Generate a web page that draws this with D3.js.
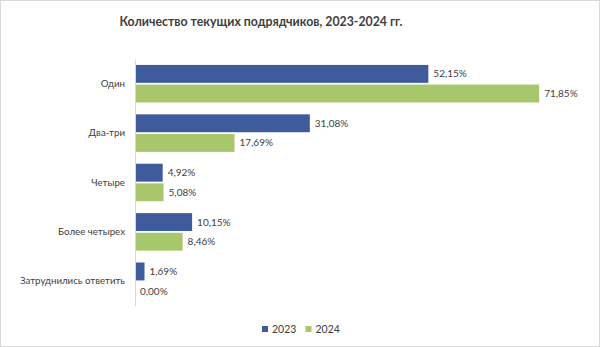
<!DOCTYPE html>
<html>
<head>
<meta charset="utf-8">
<script src="https://cdn.jsdelivr.net/npm/d3@7"></script>
<style>
  html, body { margin: 0; padding: 0; background: #fff; }
  svg { display: block; font-family: Lato, "Open Sans", sans-serif; }
</style>
</head>
<body>
<svg id="chart" width="600" height="347"></svg>
<script>
// Number of current contractors, share of respondents by year
const categories = ["Один", "Два-три", "Четыре", "Более четырех", "Затруднились ответить"];
const years = ["2023", "2024"];
const values2023 = [52.15, 31.08, 4.92, 10.15, 1.69];
const values2024 = [71.85, 17.69, 5.08, 8.46, 0.00];
const colors = ["#3F5B9B", "#A8C66C"];

const W = 600, H = 347;
const svg = d3.select("#chart");

// chart frame
svg.append("rect")
  .attr("x", 0.5).attr("y", 0.5)
  .attr("width", W - 1).attr("height", H - 1)
  .attr("fill", "#fff").attr("stroke", "#d9d9d9");

svg.append("text")
  .attr("x", 261).attr("y", 26)
  .attr("text-anchor", "middle")
  .attr("font-size", 12.3).attr("font-weight", 700)
  .attr("fill", "#404040")
  .text("Количество текущих подрядчиков, 2023-2024 гг.");

const plot = { left: 135, right: 585, top: 59, bottom: 306 };

const x = d3.scaleLinear().domain([0, 80]).range([plot.left, plot.right]);
const y = d3.scaleBand().domain(categories).range([plot.top, plot.bottom]).paddingInner(0.24).paddingOuter(0.12);
const ySub = d3.scaleBand().domain(years).range([0, y.bandwidth()]).paddingInner(0.09);

const series = years.map((yr, i) => ({
  year: yr,
  color: colors[i],
  values: categories.map((c, j) => ({ cat: c, v: (i === 0 ? values2023 : values2024)[j] }))
}));

const fmt = v => v.toFixed(2).replace(".", ",") + "%";

const groups = svg.append("g").selectAll("g")
  .data(series).join("g");

groups.selectAll("rect")
  .data(s => s.values.map(d => ({ ...d, year: s.year, color: s.color })))
  .join("rect")
  .attr("x", x(0))
  .attr("y", d => y(d.cat) + ySub(d.year))
  .attr("width", d => x(d.v) - x(0))
  .attr("height", ySub.bandwidth())
  .attr("fill", d => d.color);

groups.selectAll("text")
  .data(s => s.values.map(d => ({ ...d, year: s.year })))
  .join("text")
  .attr("x", d => x(d.v) + 5)
  .attr("y", d => y(d.cat) + ySub(d.year) + ySub.bandwidth() / 2)
  .attr("dy", "0.35em")
  .attr("font-size", 10)
  .attr("fill", "#404040")
  .text(d => fmt(d.v));

// category axis
const yAxis = svg.append("g")
  .attr("transform", `translate(${plot.left},0)`)
  .call(d3.axisLeft(y).tickSize(0).tickPadding(10));
yAxis.select(".domain").attr("stroke", "#d9d9d9");
yAxis.selectAll("text").attr("font-size", 9.7).attr("fill", "#404040")
  .attr("font-family", "Lato, 'Open Sans', sans-serif");

// legend
const legend = svg.append("g").attr("transform", "translate(262,329)");
const items = legend.selectAll("g").data(years).join("g")
  .attr("transform", (d, i) => `translate(${i * 43.5},0)`);
items.append("rect").attr("x", 0).attr("y", -3).attr("width", 6).attr("height", 6)
  .attr("fill", (d, i) => colors[i]);
items.append("text").attr("x", 10).attr("dy", "0.35em")
  .attr("font-size", 10.5).attr("fill", "#404040").text(d => d);
</script>
</body>
</html>
